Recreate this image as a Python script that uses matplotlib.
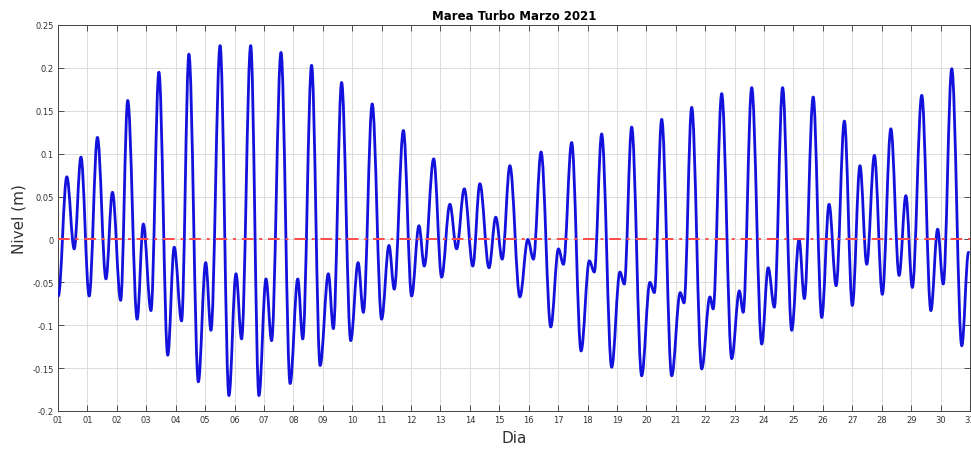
import matplotlib
matplotlib.use("Agg")
import matplotlib.pyplot as plt
from matplotlib.path import Path
from matplotlib.patches import PathPatch

# Extrema of the tide series (day of month offset, level in m)
tide_day = [0.01, 0.30, 0.55, 0.78, 1.06, 1.34, 1.63, 1.85, 2.13, 2.37,
            2.69, 2.90, 3.16, 3.43, 3.73, 3.95, 4.20, 4.45, 4.77, 5.02,
            5.20, 5.51, 5.81, 6.05, 6.24, 6.55, 6.83, 7.07, 7.26, 7.58,
            7.89, 8.15, 8.32, 8.62, 8.91, 9.19, 9.36, 9.64, 9.95, 10.20,
            10.38, 10.68, 11.00, 11.25, 11.43, 11.74, 12.02, 12.27, 12.45, 12.77,
            13.04, 13.32, 13.55, 13.81, 14.10, 14.34, 14.65, 14.88, 15.10, 15.36,
            15.70, 15.97, 16.16, 16.42, 16.75, 17.01, 17.18, 17.46, 17.78, 18.06,
            18.23, 18.48, 18.82, 19.10, 19.25, 19.50, 19.84, 20.12, 20.27, 20.52,
            20.86, 21.15, 21.28, 21.54, 21.88, 22.16, 22.27, 22.56, 22.90, 23.16,
            23.29, 23.58, 23.92, 24.14, 24.35, 24.63, 24.94, 25.19, 25.37, 25.67,
            25.96, 26.21, 26.45, 26.73, 27.00, 27.26, 27.49, 27.75, 28.02, 28.31,
            28.59, 28.82, 29.04, 29.36, 29.67, 29.90, 30.09, 30.38, 30.72, 30.95]
tide_level = [-0.066, 0.073, -0.011, 0.096, -0.066, 0.119, -0.046, 0.055, -0.071, 0.162,
              -0.093, 0.018, -0.083, 0.195, -0.135, -0.009, -0.095, 0.216, -0.166, -0.027,
              -0.106, 0.226, -0.182, -0.040, -0.116, 0.226, -0.182, -0.046, -0.118, 0.218,
              -0.168, -0.046, -0.116, 0.203, -0.147, -0.040, -0.104, 0.183, -0.118, -0.027,
              -0.085, 0.158, -0.093, -0.007, -0.058, 0.127, -0.066, 0.016, -0.031, 0.094,
              -0.044, 0.041, -0.011, 0.059, -0.031, 0.065, -0.033, 0.026, -0.023, 0.086,
              -0.067, 0.000, -0.023, 0.102, -0.102, -0.011, -0.029, 0.113, -0.130, -0.025,
              -0.038, 0.123, -0.149, -0.038, -0.052, 0.131, -0.159, -0.050, -0.062, 0.140,
              -0.159, -0.062, -0.074, 0.154, -0.151, -0.067, -0.081, 0.170, -0.139, -0.060,
              -0.085, 0.177, -0.122, -0.033, -0.079, 0.177, -0.106, 0.000, -0.069, 0.166,
              -0.091, 0.041, -0.054, 0.138, -0.077, 0.086, -0.029, 0.098, -0.064, 0.129,
              -0.042, 0.051, -0.056, 0.168, -0.083, 0.012, -0.052, 0.199, -0.124, -0.015]

x_tick_labels = ["01"] + ["%02d" % d for d in range(1, 32)]
y_ticks = [-0.2, -0.15, -0.1, -0.05, 0, 0.05, 0.1, 0.15, 0.2, 0.25]
y_tick_labels = ["-0.2", "-0.15", "-0.1", "-0.05", "0", "0.05", "0.1", "0.15", "0.2", "0.25"]

W, H = 971, 452
fig = plt.figure(figsize=(W / 100, H / 100), dpi=100)
ax = fig.add_axes([58 / W, (H - 412) / H, (970 - 58) / W, (412 - 26) / H])

# smooth curve through extrema: cubic Bezier segments with flat tangents
verts = [(tide_day[0], tide_level[0])]
codes = [Path.MOVETO]
for i in range(1, len(tide_day)):
    x0, y0 = tide_day[i - 1], tide_level[i - 1]
    x1, y1 = tide_day[i], tide_level[i]
    d = (x1 - x0) * 0.36
    verts += [(x0 + d, y0), (x1 - d, y1), (x1, y1)]
    codes += [Path.CURVE4] * 3
patch = PathPatch(Path(verts, codes), facecolor="none", edgecolor="#1212dc",
                  linewidth=2.0, capstyle="round", joinstyle="round", zorder=3)
ax.add_patch(patch)

ax.axhline(0, color="#ff4a4a", linestyle=(0, (6, 3, 1.5, 3)), linewidth=1.4, zorder=4)

ax.set_xlim(0, 31)
ax.set_ylim(-0.2, 0.25)
ax.set_xticks(range(0, 32))
ax.set_xticklabels(x_tick_labels)
ax.set_yticks(y_ticks)
ax.set_yticklabels(y_tick_labels)

ax.grid(True, color="#dcdcdc", linewidth=0.7)
ax.set_axisbelow(True)
ax.tick_params(direction="in", length=4, width=0.6, top=True, right=True,
               labelsize=6, colors="#333333", pad=3)
for s in ax.spines.values():
    s.set_color("#444444")
    s.set_linewidth(0.7)

ax.set_title("Marea Turbo Marzo 2021", fontsize=8.5, fontweight="bold", pad=4)
ax.set_xlabel("Dia", fontsize=11, color="#333333", labelpad=4)
ax.set_ylabel("Nivel (m)", fontsize=11, color="#333333", labelpad=4)

fig.savefig("out.png", dpi=100)
